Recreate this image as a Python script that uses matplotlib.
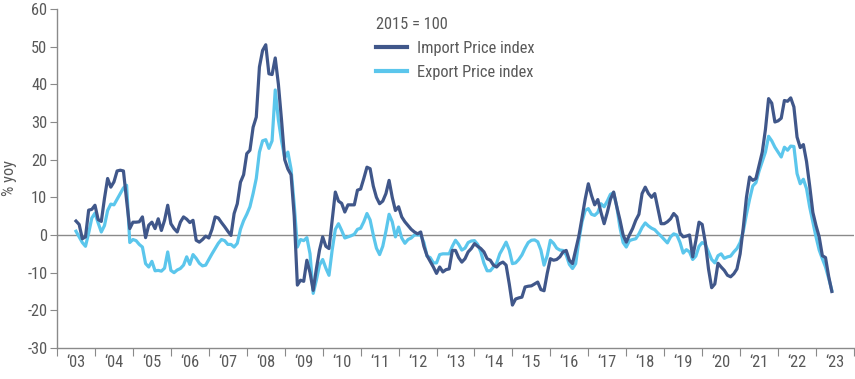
import numpy as np
import matplotlib
matplotlib.use("Agg")
import matplotlib.pyplot as plt
from matplotlib import font_manager

# monthly % yoy, Jul 2003 .. Jun 2023
start_year = 2003
start_month = 7

import_idx = [
    3.7, 2.8, -1.0, -0.5, 6.6, 6.8,
    7.9, 4.1, 3.6, 9.7, 15.0, 12.7, 14.1, 17.0, 17.2, 17.0, 9.2, 1.7,
    3.4, 3.4, 3.5, 4.8, -0.7, 2.6, 3.4, 1.7, 4.3, 1.2, 3.9, 7.9,
    3.0, 1.7, 0.8, 3.4, 4.8, 4.2, 3.3, 3.9, -1.4, -1.9, -1.2, -0.3,
    -0.8, 1.5, 4.8, 4.5, 3.3, 2.2, 1.0, -0.1, 5.7, 8.3, 14.0, 16.0,
    21.6, 22.5, 28.6, 31.3, 44.6, 49.0, 50.5, 42.8, 42.6, 47.0, 40.0, 30.4,
    20.0, 17.5, 16.0, 5.0, -13.3, -12.0, -12.3, -6.7, -10.0, -14.7, -9.0, -4.0,
    -0.5, -3.0, -3.6, 4.0, 11.4, 9.0, 8.4, 6.1, 8.0, 8.0, 8.0, 11.9,
    12.2, 15.0, 18.0, 17.6, 13.0, 10.0, 8.3, 9.0, 11.0, 14.5, 10.0, 6.5,
    7.5, 4.8, 3.5, 2.5, 1.5, 0.8, 0.3, 0.8, -3.0, -5.5, -7.0, -8.5,
    -10.2, -8.5, -9.8, -9.2, -9.0, -4.1, -4.1, -6.0, -7.2, -6.3, -4.5, -3.6,
    -2.3, -3.0, -3.6, -4.5, -6.3, -6.7, -8.0, -8.5, -7.6, -7.2, -8.0, -13.0,
    -18.6, -17.0, -16.7, -16.5, -13.8, -13.6, -13.5, -13.0, -12.5, -14.5, -14.8, -10.2,
    -6.3, -6.7, -6.5, -5.8, -4.5, -4.1, -6.7, -7.6, -4.0, -0.3, 4.5, 9.5,
    13.6, 10.5, 8.0, 9.4, 6.0, 3.0, 6.0, 9.5, 11.4, 7.5, 4.0, 0.0,
    -1.9, 0.0, 1.7, 3.9, 5.5, 11.0, 12.7, 11.0, 10.0, 11.0, 7.0, 3.0,
    3.0, 3.5, 4.3, 5.7, 4.8, 0.5, -0.5, -0.3, 0.0, -5.8, -1.5, 3.4,
    2.8, -2.0, -9.0, -14.0, -13.0, -7.5, -8.5, -9.4, -10.7, -11.1, -10.3, -9.0,
    -5.0, 2.0, 10.0, 15.4, 14.5, 15.0, 18.5, 22.0, 28.0, 36.2, 35.0, 30.0,
    30.3, 31.0, 35.7, 35.5, 36.4, 34.0, 26.0, 23.2, 24.0, 19.5, 13.0, 6.0,
    2.5, -0.5, -5.5, -6.0, -11.0, -15.0,
]

export_idx = [
    1.0, -0.5, -2.0, -3.0, 0.5, 4.5,
    5.8, 3.2, 0.8, 2.5, 6.5, 8.2, 8.0, 9.5, 11.0, 12.5, 13.2, -2.0,
    -1.2, -1.5, -2.5, -3.2, -7.6, -8.5, -7.0, -9.5, -9.4, -9.6, -8.8, -4.5,
    -9.4, -10.0, -9.3, -8.9, -8.0, -5.8, -7.8, -5.2, -6.2, -7.5, -8.2, -8.0,
    -6.5, -5.0, -3.6, -2.2, -1.2, -1.5, -2.5, -2.5, -3.2, -2.2, 1.5, 3.8,
    5.5, 7.5, 11.0, 15.0, 22.0, 25.0, 25.3, 23.0, 25.0, 38.5, 30.5, 25.0,
    20.5, 22.0, 17.5, 8.0, -3.2, -1.2, -1.5, -0.7, -5.0, -15.5, -12.0, -8.0,
    -6.5, -8.8, -10.7, -4.0, 1.5, 3.0, 1.2, -0.8, -0.5, -0.2, 0.2, 1.5,
    1.8, 3.5, 5.7, 4.0, 0.0, -3.5, -5.2, -3.0, 1.0, 5.5, 3.5, -0.5,
    2.1, -0.8, -2.2, -1.2, -0.8, 0.0, 0.0, 0.0, -2.0, -5.6, -6.0, -7.4,
    -7.4, -5.2, -5.0, -5.0, -5.0, -3.0, -1.4, -2.5, -4.0, -3.5, -2.0, -1.6,
    -1.5, -2.5, -4.5, -7.5, -9.5, -9.5, -8.5, -7.5, -5.0, -3.5, -1.9, -4.0,
    -7.6, -7.4, -6.5, -5.3, -3.5, -2.0, -1.4, -1.3, -1.8, -4.0, -8.0, -5.5,
    -1.4, -2.2, -3.5, -4.0, -4.1, -5.3, -7.8, -8.9, -7.6, -1.5, 3.5, 6.5,
    7.0, 5.5, 5.2, 6.0, 8.3, 7.5, 9.0, 10.8, 11.2, 7.5, 2.0, -2.0,
    -3.2, -1.5, -1.2, -1.0, 0.3, 2.0, 3.2, 2.4, 1.8, 1.4, 0.5, -0.3,
    -1.2, -2.1, -0.5, 0.3, 0.0, -2.0, -4.8, -3.9, -4.5, -6.5, -5.6, -3.0,
    -2.0, -2.5, -4.5, -6.5, -7.4, -5.5, -5.0, -6.2, -5.8, -5.6, -4.5, -3.6,
    -2.0, 1.0, 5.5, 9.5, 13.0, 13.9, 17.0, 19.5, 22.0, 26.2, 25.0, 23.3,
    22.0, 20.7, 23.3, 22.5, 23.6, 23.5, 16.3, 13.6, 14.8, 12.3, 7.4, 3.5,
    -0.5, -4.0, -6.3, -8.5, -11.5, -14.7,
]

years = list(range(2003, 2024))
year_labels = ["\u2018%02d" % (y % 100) for y in years]
y_ticks = [-30, -20, -10, 0, 10, 20, 30, 40, 50, 60]

import_color = "#40578a"
export_color = "#5bc6ec"
grey = "#595959"
axis_grey = "#8a8a8a"
fs = 11.8


def pick_font():
    installed = {f.name for f in font_manager.fontManager.ttflist}
    for name in ["Liberation Sans Narrow", "Roboto Condensed", "Roboto",
                 "Liberation Sans"]:
        if name in installed:
            return name
    return "DejaVu Sans"


def main():
    plt.rcParams["font.family"] = [pick_font(), "DejaVu Sans"]
    plt.rcParams["axes.unicode_minus"] = False

    months = np.arange(len(import_idx))
    t = start_year + (start_month - 1 + months) / 12.0

    fig = plt.figure(figsize=(8.55, 3.79), dpi=100)
    ax = fig.add_axes([0.0667, 0.0818, 0.9321, 0.8945])

    ax.axhline(0, color=axis_grey, lw=1.0, zorder=1)
    ax.plot(t, export_idx, color=export_color, lw=2.3,
            label="Export Price index", zorder=2)
    ax.plot(t, import_idx, color=import_color, lw=2.3,
            label="Import Price index", zorder=3)

    ax.set_xlim(2003, 2024)
    ax.set_ylim(-30, 60)
    ax.set_yticks(y_ticks)

    ax.set_xticks(range(2003, 2025))
    ax.set_xticklabels([])
    ax.set_xticks([y + 0.5 for y in years], minor=True)
    ax.set_xticklabels(year_labels, minor=True)
    ax.tick_params(axis="x", which="major", length=6, color=axis_grey,
                   direction="out")
    ax.tick_params(axis="x", which="minor", length=0, pad=5,
                   labelsize=fs, labelcolor=grey)
    ax.tick_params(axis="y", length=5, color=axis_grey, labelsize=fs,
                   labelcolor=grey, pad=2)

    for side in ["top", "right"]:
        ax.spines[side].set_visible(False)
    for side in ["left", "bottom"]:
        ax.spines[side].set_color(axis_grey)
        ax.spines[side].set_linewidth(1.0)

    ax.set_ylabel("% yoy", fontsize=fs, color=grey)
    ax.yaxis.set_label_coords(-0.05, 0.5)

    handles, labels = ax.get_legend_handles_labels()
    leg = ax.legend(handles[::-1], labels[::-1], title="2015 = 100",
                    loc="upper left", bbox_to_anchor=(0.382, 1.02),
                    frameon=False, fontsize=fs, title_fontsize=fs,
                    handlelength=1.9, handletextpad=0.6, labelspacing=0.55,
                    alignment="left")
    for text in leg.get_texts():
        text.set_color(grey)
    leg.get_title().set_color(grey)
    for line in leg.get_lines():
        line.set_linewidth(3)

    plt.savefig("out.png", dpi=100)


if __name__ == "__main__":
    main()
